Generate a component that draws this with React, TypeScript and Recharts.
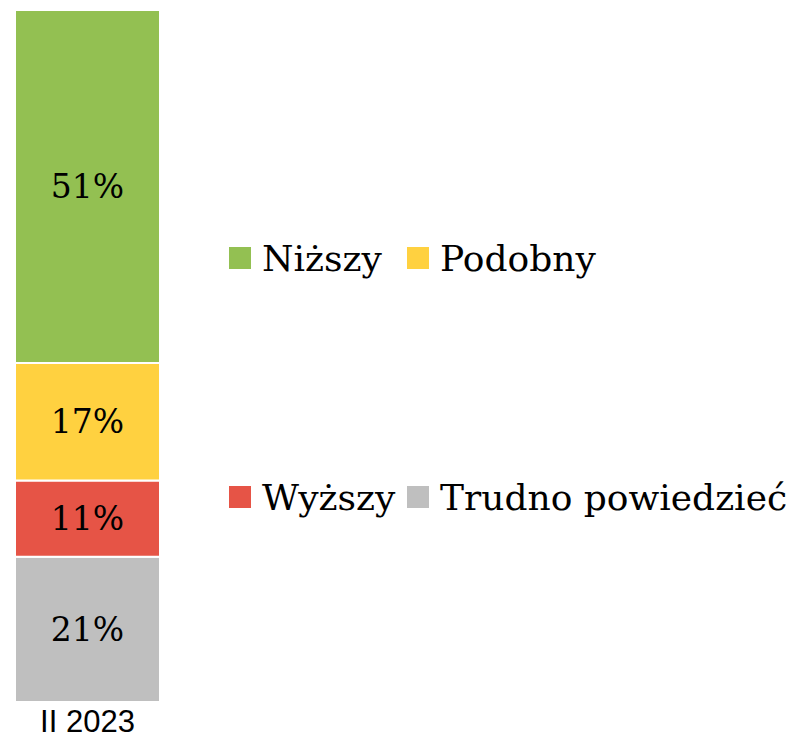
import { Bar, BarChart, LabelList, Legend, XAxis, YAxis } from 'recharts'

// single period, four answer groups (stacked bottom to top)
const periods = ['II 2023']
const seriesNames = ['Trudno powiedzieć', 'Wyższy', 'Podobny', 'Niższy']
const seriesValues = [21, 11, 17, 51]
const seriesColors = ['#BFBFBF', '#E65446', '#FFD140', '#93C052']
const legendOrder = ['Niższy', 'Podobny', 'Wyższy', 'Trudno powiedzieć']
const yTicks = [0, 25, 50, 75, 100]

const data = periods.map((period) => {
  const row: Record<string, string | number> = { period }
  seriesNames.forEach((name, i) => {
    row[name] = seriesValues[i]
  })
  return row
})

const serif = '"DejaVu Serif", "Liberation Serif", serif'

const LegendBox = ({ payload }: any) => {
  const items = legendOrder
    .map((name) => (payload || []).find((p: any) => p.value === name))
    .filter(Boolean)
  const rows = [items.slice(0, 2), items.slice(2, 4)]
  return (
    <div style={{ fontFamily: serif, fontSize: 36, color: '#000' }}>
      {rows.map((row, r) => (
        <div
          key={r}
          style={{
            display: 'grid',
            gridTemplateColumns: '178px auto',
            alignItems: 'center',
            height: 44,
            marginBottom: r === 0 ? 195 : 0,
          }}
        >
          {row.map((item: any) => (
            <div key={item.value} style={{ display: 'flex', alignItems: 'center' }}>
              <span
                style={{
                  display: 'inline-block',
                  width: 22,
                  height: 22,
                  background: item.color,
                  marginRight: 11,
                }}
              />
              <span style={{ whiteSpace: 'nowrap' }}>{item.value}</span>
            </div>
          ))}
        </div>
      ))}
    </div>
  )
}

export default function App() {
  return (
    <div style={{ position: 'absolute', left: 0, top: 0 }}>
      <BarChart
        width={800}
        height={741}
        data={data}
        margin={{ top: 10, right: 630, bottom: 0, left: 5 }}
        barCategoryGap={0}
      >
        <XAxis
          dataKey="period"
          axisLine={false}
          tickLine={false}
          height={39}
          tick={{
            fill: '#000',
            fontSize: 31,
            fontFamily: '"Liberation Sans", Arial, sans-serif',
          }}
          dy={0}
        />
        <YAxis hide domain={[0, 100]} ticks={yTicks} />
        <Legend
          layout="horizontal"
          verticalAlign="middle"
          align="center"
          content={<LegendBox />}
          wrapperStyle={{ left: 229, top: 236, width: 570 }}
        />
        {seriesNames.map((name, i) => (
          <Bar
            key={name}
            dataKey={name}
            stackId="a"
            fill={seriesColors[i]}
            stroke="#fff"
            strokeWidth={2}
            barSize={145}
            isAnimationActive={false}
          >
            <LabelList
              dataKey={name}
              position="center"
              formatter={(v: any) => `${v}%`}
              style={{ fill: '#000', fontSize: 33, fontFamily: serif }}
            />
          </Bar>
        ))}
      </BarChart>
    </div>
  )
}
